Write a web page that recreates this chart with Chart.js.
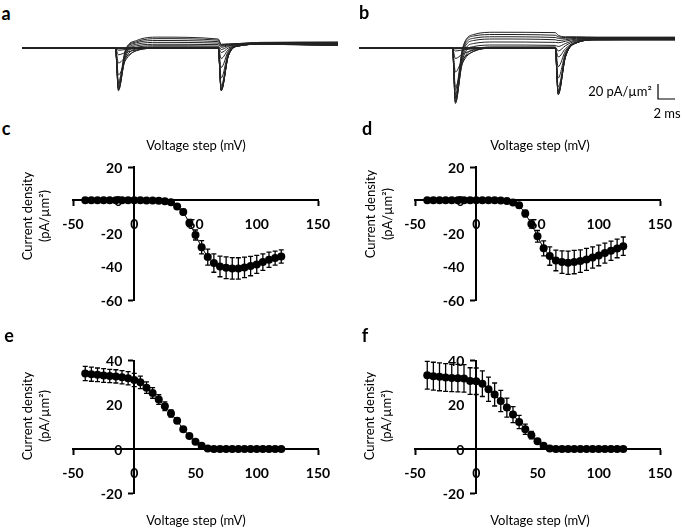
<!DOCTYPE html>
<html>
<head>
<meta charset="utf-8">
<script src="https://cdn.jsdelivr.net/npm/chart.js@4.4.1/dist/chart.umd.min.js"></script>
<style>
  body { margin: 0; background: #fff; font-family: Lato, sans-serif; color: #000; }
  #fig { position: relative; width: 685px; height: 531px; overflow: hidden; }
  canvas { position: absolute; }
  .t { position: absolute; transform: translate(-50%, -50%); white-space: nowrap; line-height: 1; font-size: 13px; }
  .lbl { position: absolute; transform: translate(-50%, -50%); font-weight: bold; font-size: 18px; line-height: 1; }
  .rot { position: absolute; transform: translate(-50%, -50%) rotate(-90deg); white-space: nowrap; text-align: center; line-height: 17px; font-size: 13px; }
</style>
</head>
<body>
<div id="fig">
  <canvas id="trA" width="336" height="107" style="left:12px;top:14px"></canvas>
  <canvas id="trB" width="336" height="107" style="left:349px;top:14px"></canvas>
  <canvas id="ivC" width="345" height="190" style="left:0px;top:140px"></canvas>
  <canvas id="ivD" width="340" height="190" style="left:345px;top:140px"></canvas>
  <canvas id="ivE" width="345" height="175" style="left:0px;top:340px"></canvas>
  <canvas id="ivF" width="340" height="175" style="left:345px;top:340px"></canvas>

  <div class="lbl" style="left:6px;top:13px">a</div>
  <div class="lbl" style="left:364px;top:12px">b</div>
  <div class="lbl" style="left:6px;top:128px">c</div>
  <div class="lbl" style="left:367px;top:128px">d</div>
  <div class="lbl" style="left:9px;top:335px">e</div>
  <div class="lbl" style="left:365px;top:335px">f</div>

  <div class="t" style="left:620px;top:91px">20 pA/µm²</div>
  <div class="t" style="left:667px;top:113px">2 ms</div>

  <div class="t" style="left:196px;top:145px">Voltage step (mV)</div>
  <div class="t" style="left:540px;top:145px">Voltage step (mV)</div>
  <div class="t" style="left:196px;top:520px">Voltage step (mV)</div>
  <div class="t" style="left:540px;top:520px">Voltage step (mV)</div>

  <div class="rot" style="left:36px;top:216px">Current density<br>(pA/µm²)</div>
  <div class="rot" style="left:379px;top:214px">Current density<br>(pA/µm²)</div>
  <div class="rot" style="left:36px;top:416px">Current density<br>(pA/µm²)</div>
  <div class="rot" style="left:378px;top:416px">Current density<br>(pA/µm²)</div>
</div>
<script>
// --- current traces (a, b): one sweep per step voltage ---
const sweepVolts = [-40, -30, -20, -10, 0, 10, 20, 30, 40, 50, 60, 70, 80, 90, 100, 110, 120];
// sample times in ms; first two samples are the holding baseline (0)
const traceT = [0, 11, 11.35, 12.2, 13.5, 16, 23.1, 23.45, 24.3, 25.6, 28, 37.2];

// panel a, pA/um2 at each sample time after baseline
const peak1A = [0, 0, 0, 0, 0, -1, -3, -9, -20, -36, -48, -54, -57, -56, -53, -49, -45];
const r1A    = [0, 0, 0, 0, 0, -0.5, -2, -6, -12, -16, -14, -11, -8, -6, -4, -3, -2];
const r2A    = [0, 0, 0, 0, 0, 0, -0.8, -2.5, -3.5, -3, -1, 1, 3, 5, 7, 8.5, 10];
const p1A    = [0, 0, 0, 0, 0, 0, 0, 0, 0, 0.5, 1.5, 3, 5, 7.5, 10, 12.5, 14.5];
const p2A    = [0, 0, 0, 0, 0, 0, 0, 0, 0, 0.5, 1.2, 2.5, 4.5, 6.5, 8.5, 10.5, 12];
const peak2A = [-57, -57, -56, -56, -55, -54, -50, -40, -26, -14, -6, -2, 1, 2.5, 3.5, 4.5, 5];
const r3A    = [-10, -10, -10, -10, -9, -9, -8, -6, -4, -2, 0, 2, 3, 4, 4.5, 5, 5.5];
const r4A    = [3, 3, 3, 3, 3, 3, 3, 3.5, 4, 4, 4.5, 5, 5, 5.5, 5.5, 6, 6];
const f1A    = [5, 5, 5, 5, 5, 5, 5, 5.5, 5.5, 6, 6, 6, 6.5, 6.5, 7, 7, 7.5];
const f2A    = [3.5, 3.5, 3.5, 4, 4, 4, 4.5, 4.5, 5, 5, 5.5, 5.5, 6, 6.5, 7, 7.5, 8];

// panel b
const peak1B = [0, 0, 0, 0, 0, -1, -4, -14, -32, -52, -66, -72, -74, -72, -68, -62, -56];
const r1B    = [0, 0, 0, 0, 0, -0.5, -2.5, -8, -15, -20, -19, -15, -11, -7, -4, -2, 0];
const r2B    = [0, 0, 0, 0, 0, 0, -1, -3, -4.5, -4.5, -2, 2, 6, 10, 13, 16, 18];
const p1B    = [0, 0, 0, 0, 0, 0, 0, 0, 0, 0.5, 1.5, 4, 8, 12, 15, 18, 21];
const p2B    = [0, 0, 0, 0, 0, 0, 0, 0, 0, 0.5, 1.5, 3.5, 7.5, 11, 14, 17, 20.5];
const peak2B = [-62, -62, -61, -60, -59, -57, -52, -40, -25, -12, -4, 2, 7, 10, 13, 15, 17];
const r3B    = [-12, -12, -12, -11, -11, -10, -9, -7, -4, -1, 3, 6, 9, 11, 13, 14, 15];
const r4B    = [7, 7, 7, 7, 7, 7, 7, 7.5, 8, 9, 10, 11, 12, 13, 13.5, 14, 15];
const f1B    = [11, 11, 11, 11, 11, 11, 11.5, 11.5, 12, 12, 12.5, 13, 13, 13.5, 14, 14, 14.5];
const f2B    = [11, 11, 11, 11, 11.5, 11.5, 11.5, 12, 12, 12.5, 12.5, 13, 13, 13.5, 13.5, 14, 14.5];

// scale bar: 20 pA/um2 by 2 ms
const scaleBarT = [35.2, 35.2, 37.2];
const scaleBarI = [-48, -68, -68];

// --- I-V panels ---
const voltages = [-40, -35, -30, -25, -20, -15, -10, -5, 0, 5, 10, 15, 20, 25, 30, 35, 40, 45, 50, 55, 60,
                  65, 70, 75, 80, 85, 90, 95, 100, 105, 110, 115, 120];
const cMean = [0, 0, 0, 0, 0, 0, 0, 0, 0, 0, -0.1, -0.2, -0.3, -0.6, -1.2, -3.8, -7, -13.7, -20.9, -28.3, -34.2,
               -37.8, -39.8, -40.6, -41, -41, -40.4, -39.6, -38.6, -37.2, -35.8, -34.8, -33.8];
const cErr  = [0.3, 0.3, 0.3, 0.3, 0.3, 0.3, 0.3, 0.3, 0.3, 0.3, 0.3, 0.3, 0.3, 0.5, 0.8, 1.2, 1.6, 2.2, 3, 4, 4.8,
               5.5, 6.2, 6.5, 6.5, 6.4, 6.2, 5.8, 5.4, 5, 4.6, 4.2, 4];
const dMean = [0, 0, 0, 0, 0, 0, 0, 0, 0, 0, 0, 0, -0.1, -0.5, -1.4, -3, -8, -14.3, -21.7, -28.9, -33.6,
               -36.2, -37.2, -37.6, -37.2, -36.6, -35.6, -34.4, -33.2, -31.8, -30.4, -29, -27.6];
const dErr  = [0.3, 0.3, 0.3, 0.3, 0.3, 0.3, 0.3, 0.3, 0.3, 0.3, 0.3, 0.3, 0.3, 0.6, 1, 1.5, 2, 2.5, 3.5, 4.5, 5.5,
               6.2, 6.8, 7, 7, 6.8, 6.6, 6.4, 6.2, 6, 5.8, 5.6, 5.5];
const eMean = [34.2, 33.9, 33.6, 33.3, 33.1, 32.9, 32.5, 32.1, 31.3, 30.2, 27.8, 25.4, 22.4, 19.4, 16.1, 12.8, 9, 5.9, 3.3, 1.5, 0.3,
               0, 0, 0, 0, 0, 0, 0, 0, 0, 0, 0, 0];
const eErr  = [3.2, 3.2, 3.1, 3.1, 3, 3, 3, 3, 3, 2.8, 2.6, 2.4, 2.2, 2, 1.6, 1.2, 0.9, 0.7, 0.5, 0.4, 0.2,
               0.2, 0.2, 0.2, 0.2, 0.2, 0.2, 0.2, 0.2, 0.2, 0.2, 0.2, 0.2];
const fMean = [33.4, 33, 32.7, 32.4, 32.2, 32.1, 32, 30.8, 30.7, 29.6, 27.1, 24.7, 21.8, 18.8, 15.6, 12.3, 9, 6.3, 3.6, 1.5, 0.3,
               0, 0, 0, 0, 0, 0, 0, 0, 0, 0, 0, 0];
const fErr  = [6.3, 6.3, 6.3, 6.3, 6.2, 6.2, 6.2, 6, 6, 5.8, 5.5, 5.2, 4.8, 4.3, 3.6, 3, 2.3, 1.7, 1, 0.6, 0.2,
               0.2, 0.2, 0.2, 0.2, 0.2, 0.2, 0.2, 0.2, 0.2, 0.2, 0.2, 0.2];

Chart.defaults.font.family = 'Lato';
Chart.defaults.color = '#000';

function traceChart(id, cols, extra) {
  const sets = sweepVolts.map((v, i) => ({
    label: v + ' mV',
    data: traceT.map((t, k) => ({ x: t, y: k < 2 ? 0 : cols[k - 2][i] })),
    borderColor: '#222',
    borderWidth: 1,
    pointRadius: 0,
    cubicInterpolationMode: 'monotone',
    clip: false
  }));
  if (extra) sets.push(extra);
  return new Chart(document.getElementById(id), {
    type: 'line',
    data: { datasets: sets },
    options: {
      responsive: false,
      animation: false,
      layout: { padding: { left: 10, right: 10, top: 10, bottom: 10 } },
      plugins: { legend: { display: false }, tooltip: { enabled: false } },
      scales: {
        x: { type: 'linear', min: 0, max: 37.2, display: false },
        y: { min: -84, max: 32, display: false }
      }
    }
  });
}

traceChart('trA', [peak1A, r1A, r2A, p1A, p2A, peak2A, r3A, r4A, f1A, f2A]);
traceChart('trB', [peak1B, r1B, r2B, p1B, p2B, peak2B, r3B, r4B, f1B, f2B], {
  label: 'scale bar',
  data: scaleBarT.map((t, i) => ({ x: t, y: scaleBarI[i] })),
  borderColor: '#000',
  borderWidth: 1.2,
  pointRadius: 0,
  clip: false
});

// vertical error bars with caps, mapped through the chart's scales;
// y tick labels set left of the crossing y axis
const errorBars = {
  id: 'errorBars',
  beforeDatasetsDraw(chart) {
    const { ctx, scales: { x, y } } = chart;
    const ax = x.getPixelForValue(0);
    ctx.save();
    ctx.font = 'bold 14px Lato';
    ctx.fillStyle = '#000';
    ctx.textAlign = 'right';
    ctx.textBaseline = 'middle';
    y.ticks.forEach(t => ctx.fillText(String(t.value), ax - 12, y.getPixelForValue(t.value) + 1));

    const ds = chart.data.datasets[0];
    ctx.strokeStyle = '#000';
    ctx.lineWidth = 1.3;
    ds.data.forEach((p, i) => {
      const e = ds.errors[i];
      const px = x.getPixelForValue(p.x);
      const top = y.getPixelForValue(p.y + e);
      const bot = y.getPixelForValue(p.y - e);
      ctx.beginPath();
      ctx.moveTo(px, top); ctx.lineTo(px, bot);
      ctx.moveTo(px - 2.5, top); ctx.lineTo(px + 2.5, top);
      ctx.moveTo(px - 2.5, bot); ctx.lineTo(px + 2.5, bot);
      ctx.stroke();
    });
    ctx.restore();
  }
};

const endTicks = c => (c.index === 0 || c.index === c.scale.ticks.length - 1) ? '#000' : 'rgba(0,0,0,0)';

function ivChart(id, mean, err, yMin, yMax, pad) {
  return new Chart(document.getElementById(id), {
    type: 'line',
    data: {
      datasets: [{
        data: voltages.map((v, i) => ({ x: v, y: mean[i] })),
        errors: err,
        borderColor: '#000',
        borderWidth: 1,
        pointRadius: 4,
        pointBackgroundColor: '#000',
        pointBorderWidth: 0,
        clip: false
      }]
    },
    options: {
      responsive: false,
      animation: false,
      layout: { padding: pad },
      plugins: { legend: { display: false }, tooltip: { enabled: false } },
      scales: {
        x: {
          type: 'linear', min: -50, max: 150, position: { y: 0 },
          ticks: { stepSize: 50, padding: 11, color: '#000', font: { size: 14, weight: 'bold' } },
          grid: { drawOnChartArea: false, tickLength: 5, tickWidth: 2, tickColor: endTicks },
          border: { color: '#000', width: 2 }
        },
        y: {
          min: yMin, max: yMax, position: { x: 0 },
          ticks: { stepSize: 20, display: false },
          grid: { drawOnChartArea: false, tickLength: 5, tickWidth: 2, tickColor: endTicks },
          border: { color: '#000', width: 2 }
        }
      }
    },
    plugins: [errorBars]
  });
}

ivChart('ivC', cMean, cErr, -60, 20, { left: 73, right: 27, top: 27, bottom: 30 });
ivChart('ivD', dMean, dErr, -60, 20, { left: 70, right: 25, top: 27, bottom: 30 });
ivChart('ivE', eMean, eErr, -20, 40, { left: 73, right: 27, top: 20.7, bottom: 21.7 });
ivChart('ivF', fMean, fErr, -20, 40, { left: 70, right: 25, top: 20.7, bottom: 21.7 });
</script>
</body>
</html>
